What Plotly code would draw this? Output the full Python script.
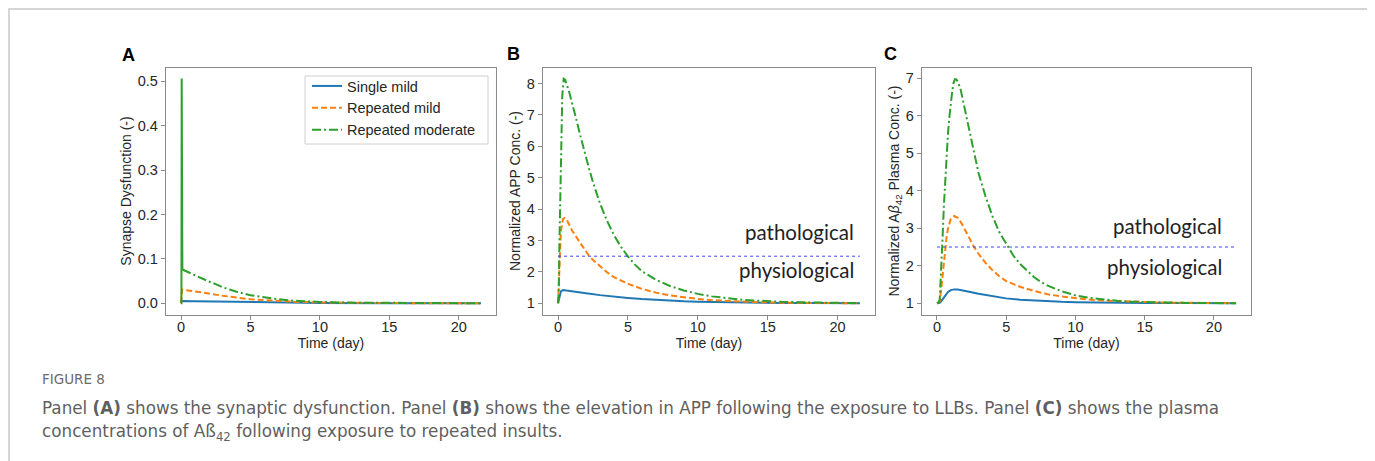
import plotly.graph_objects as go

# The page body has an 8px margin, so the figure is 8px smaller than the window
OFF = 8
W, H = 1375 - OFF, 461 - OFF

# ---------------- data ----------------
# Panel A: synapse dysfunction
tA_single = [0, 0.05, 1, 2, 4, 6, 8, 10, 15, 21.6]
yA_single = [0, 0.005, 0.0045, 0.004, 0.003, 0.002, 0.0013, 0.0008, 0.0002, 0.0]

tA_rmild = [0, 0.08, 0.5, 1, 2, 3, 4, 5, 6, 7, 8, 10, 12, 15, 21.6]
yA_rmild = [0, 0.031, 0.029, 0.027, 0.022, 0.017, 0.013, 0.009, 0.007, 0.005, 0.0035, 0.002, 0.001, 0.0004, 0.0]

tA_rmod = [0, 0.03, 0.05, 0.1, 0.5, 1, 1.5, 2, 2.5, 3, 3.5, 4, 5, 6, 7, 8, 9, 10, 12, 15, 18, 21.6]
yA_rmod = [0, 0.0, 0.506, 0.076, 0.07, 0.063, 0.056, 0.049, 0.043, 0.036, 0.031, 0.026, 0.018, 0.013,
           0.009, 0.006, 0.004, 0.003, 0.0015, 0.0005, 0.0002, 0.0]
spike_n = 4  # first points of the moderate series form the initial spike

# Panel B: normalized APP concentration
tB_single = [0, 0.1, 0.2, 0.35, 1, 2, 3, 4, 5, 6, 7, 8, 9, 10, 12, 14, 16, 18, 21.6]
yB_single = [1.0, 1.2, 1.38, 1.42, 1.39, 1.32, 1.26, 1.21, 1.17, 1.135, 1.105, 1.08, 1.063, 1.05,
             1.03, 1.018, 1.01, 1.006, 1.003]

tB_rmild = [0, 0.1, 0.2, 0.35, 0.46, 0.6, 1, 1.5, 2, 2.2, 2.5, 3, 3.5, 4, 4.5, 5, 6, 7, 8, 9, 10, 11,
            12, 14, 16, 18, 21.6]
yB_rmild = [1.0, 2.0, 3.3, 3.68, 3.72, 3.68, 3.32, 2.98, 2.64, 2.52, 2.38, 2.17, 1.99, 1.83, 1.72,
            1.62, 1.46, 1.34, 1.25, 1.19, 1.14, 1.10, 1.075, 1.04, 1.02, 1.01, 1.0]

tB_rmod = [0, 0.05, 0.1, 0.2, 0.3, 0.4, 0.5, 0.78, 1.0, 1.25, 1.5, 1.75, 2.0, 2.21, 2.5, 3, 3.5, 4,
           4.5, 5, 5.5, 6, 7, 8, 9, 10, 11, 12, 13, 14, 15, 16, 18, 20, 21.6]
yB_rmod = [1.0, 1.5, 3.0, 5.8, 7.6, 8.15, 8.12, 7.75, 7.4, 6.95, 6.5, 6.05, 5.62, 5.3, 4.85, 4.18,
           3.63, 3.17, 2.8, 2.49, 2.23, 2.02, 1.75, 1.55, 1.41, 1.30, 1.22, 1.165, 1.12, 1.09, 1.065,
           1.048, 1.026, 1.014, 1.008]

# Panel C: normalized Abeta42 plasma concentration
tC_single = [0, 0.2, 0.3, 0.4, 0.5, 0.6, 0.8, 1.0, 1.25, 1.5, 2, 2.5, 3, 3.5, 4, 5, 6, 7, 8, 9, 10,
             12, 15, 18, 21.6]
yC_single = [1.0, 1.01, 1.05, 1.1, 1.16, 1.21, 1.3, 1.35, 1.37, 1.365, 1.335, 1.295, 1.255, 1.22,
             1.185, 1.13, 1.095, 1.07, 1.052, 1.04, 1.03, 1.018, 1.008, 1.004, 1.002]

tC_rmild = [0, 0.2, 0.3, 0.4, 0.5, 0.6, 0.7, 0.8, 0.9, 1.0, 1.25, 1.5, 1.75, 2.0, 2.25, 2.5, 2.68,
            3, 3.5, 4, 4.5, 5, 6, 7, 8, 9, 10, 11, 12, 14, 16, 18, 21.6]
yC_rmild = [1.0, 1.05, 1.35, 1.75, 2.15, 2.5, 2.78, 3.0, 3.15, 3.25, 3.33, 3.28, 3.15, 2.98, 2.78,
            2.6, 2.5, 2.32, 2.08, 1.885, 1.72, 1.59, 1.44, 1.33, 1.24, 1.18, 1.13, 1.10, 1.072, 1.04,
            1.022, 1.012, 1.004]

tC_rmod = [0, 0.1, 0.2, 0.3, 0.4, 0.5, 0.6, 0.7, 0.8, 0.9, 1.0, 1.1, 1.2, 1.3, 1.4, 1.5, 1.7, 1.97,
           2.2, 2.5, 3, 3.5, 4, 4.5, 5, 5.5, 6, 6.5, 7, 7.5, 8, 9, 10, 11, 12, 13, 14, 15, 16, 18, 20, 21.6]
yC_rmod = [1.0, 1.01, 1.1, 1.8, 2.7, 3.6, 4.35, 5.0, 5.55, 5.98, 6.35, 6.65, 6.88, 6.98, 6.97, 6.92,
           6.72, 6.25, 5.8, 5.28, 4.48, 3.86, 3.33, 2.9, 2.57, 2.28, 2.05, 1.87, 1.70, 1.57, 1.47,
           1.32, 1.21, 1.145, 1.095, 1.065, 1.043, 1.03, 1.02, 1.009, 1.004, 1.002]

threshold = 2.5
t_span = [0, 21.6]

series_names = ["Single mild", "Repeated mild", "Repeated moderate"]
colors = ["#1f77b4", "#ff7f0e", "#2ca02c"]
x_ticks = [0, 5, 10, 15, 20]

# ---------------- layout helpers (page pixel -> paper fraction) ----------------
def px(x):
    return (x - OFF) / W

def py(y):
    return 1 - (y - OFF) / H

FONT = "Liberation Sans, Arial, sans-serif"
TXT = "#262626"
AX = "#8a8a8a"

dash_mild = "6px,3px"
dash_mod = "9px,3px,2px,3px"

fig = go.Figure()

panels = [
    ("x", "y", (tA_single, yA_single), (tA_rmild, yA_rmild), (tA_rmod, yA_rmod)),
    ("x2", "y2", (tB_single, yB_single), (tB_rmild, yB_rmild), (tB_rmod, yB_rmod)),
    ("x3", "y3", (tC_single, yC_single), (tC_rmild, yC_rmild), (tC_rmod, yC_rmod)),
]

for i, (xa, ya, s1, s2, s3) in enumerate(panels):
    show = i == 0
    fig.add_trace(go.Scatter(x=s1[0], y=s1[1], mode="lines", name=series_names[0],
                             line=dict(color=colors[0], width=2), xaxis=xa, yaxis=ya,
                             showlegend=show, legendrank=1))
    fig.add_trace(go.Scatter(x=s2[0], y=s2[1], mode="lines", name=series_names[1],
                             line=dict(color=colors[1], width=2, dash=dash_mild), xaxis=xa, yaxis=ya,
                             showlegend=show, legendrank=2))
    if i == 0:
        # spike drawn solid, remainder dash-dot
        fig.add_trace(go.Scatter(x=s3[0][:spike_n], y=s3[1][:spike_n], mode="lines",
                                 line=dict(color=colors[2], width=2), xaxis=xa, yaxis=ya,
                                 showlegend=False))
        fig.add_trace(go.Scatter(x=s3[0][spike_n - 1:], y=s3[1][spike_n - 1:], mode="lines",
                                 name=series_names[2],
                                 line=dict(color=colors[2], width=2, dash=dash_mod), xaxis=xa, yaxis=ya,
                                 showlegend=True, legendrank=3))
    else:
        fig.add_trace(go.Scatter(x=s3[0], y=s3[1], mode="lines", name=series_names[2],
                                 line=dict(color=colors[2], width=2, dash=dash_mod), xaxis=xa, yaxis=ya,
                                 showlegend=False))
    if i > 0:
        fig.add_trace(go.Scatter(x=t_span, y=[threshold, threshold], mode="lines",
                                 line=dict(color="#4040ff", width=1, dash="dot"),
                                 xaxis=xa, yaxis=ya, showlegend=False))

ydom = [py(314.5), py(67.5)]
xdoms = [[px(166), px(496)], [px(543), px(875)], [px(922), px(1251)]]
yranges = [[-0.0253, 0.531], [0.643, 8.51], [0.70, 7.29]]
ytitles = ["Synapse Dysfunction (-)", "Normalized APP Conc. (-)",
           "Normalized A<i>β</i><sub>42</sub> Plasma Conc. (-)"]

common = dict(showline=True, mirror=True, linecolor=AX, linewidth=1.3, ticks="outside",
              ticklen=4, tickwidth=1, tickcolor=AX, showgrid=False, zeroline=False,
              tickfont=dict(family=FONT, size=14.5, color=TXT))

layout = dict(width=W, height=H, autosize=False, margin=dict(l=0, r=0, t=0, b=0),
              paper_bgcolor="white", plot_bgcolor="white", template="none",
              font=dict(family=FONT, color=TXT))

for i in range(3):
    sx = "" if i == 0 else str(i + 1)
    layout["xaxis" + sx] = dict(common, domain=xdoms[i], range=[-1.08, 22.68], tickvals=x_ticks,
                                anchor="y" + sx, ticklabelstandoff=-5,
                                title=dict(text="Time (day)", font=dict(family=FONT, size=14, color=TXT),
                                           standoff=0))
    yax = dict(common, domain=ydom, range=yranges[i], anchor="x" + sx,
               title=dict(text=ytitles[i], font=dict(family=FONT, size=14, color=TXT), standoff=2))
    if i == 0:
        yax["dtick"] = 0.1
        yax["tickformat"] = ".1f"
    else:
        yax["dtick"] = 1
    layout["yaxis" + sx] = yax

# legend entries (box drawn as a shape below)
layout["legend"] = dict(x=px(307), y=py(70), xanchor="left", yanchor="top",
                        borderwidth=0, bgcolor="rgba(0,0,0,0)",
                        font=dict(family=FONT, size=14.5, color=TXT), itemwidth=30,
                        tracegroupgap=0)

fig.update_layout(**layout)

fig.add_shape(type="rect", xref="paper", yref="paper", x0=px(305), x1=px(488), y0=py(144), y1=py(76),
              line=dict(color="#d0d0d0", width=1), fillcolor="white", layer="above")

# threshold labels
lab_font = dict(family="Lato, Open Sans, sans-serif", size=20.5, color="#222222")
for sx, xr, yp, yph in [("2", 21.3, 3.27, 2.07), ("3", 20.73, 3.06, 1.96)]:
    fig.add_annotation(x=xr, y=yp, xref="x" + sx, yref="y" + sx, text="pathological",
                       showarrow=False, xanchor="right", yanchor="middle", font=lab_font)
    fig.add_annotation(x=xr, y=yph, xref="x" + sx, yref="y" + sx, text="physiological",
                       showarrow=False, xanchor="right", yanchor="middle", font=lab_font)

# panel letters
for letter, xc, yc in [("A", 129, 55), ("B", 513, 54), ("C", 890, 54)]:
    fig.add_annotation(x=px(xc), y=py(yc), xref="paper", yref="paper", text="<b>%s</b>" % letter,
                       showarrow=False, xanchor="center", yanchor="middle",
                       font=dict(family=FONT, size=18, color="black"))

# caption
cap_font = "DejaVu Sans, sans-serif"
fig.add_annotation(x=px(40), y=py(379), xref="paper", yref="paper", text="FIGURE 8",
                   showarrow=False, xanchor="left", yanchor="middle",
                   font=dict(family=cap_font, size=13.5, color="#6b6b6b"))
fig.add_annotation(x=px(40), y=py(408), xref="paper", yref="paper",
                   text="Panel <b>(A)</b> shows the synaptic dysfunction. Panel <b>(B)</b> shows the elevation in APP "
                        "following the exposure to LLBs. Panel <b>(C)</b> shows the plasma",
                   showarrow=False, xanchor="left", yanchor="middle",
                   font=dict(family=cap_font, size=16.8, color="#5f5f5f"))
fig.add_annotation(x=px(40), y=py(432), xref="paper", yref="paper",
                   text="concentrations of Aß<sub>42</sub> following exposure to repeated insults.",
                   showarrow=False, xanchor="left", yanchor="middle",
                   font=dict(family=cap_font, size=16.8, color="#5f5f5f"))

# outer frame
fig.add_shape(type="rect", xref="paper", yref="paper", x0=px(9), x1=px(1369), y0=-0.1, y1=py(9),
              line=dict(color="#c8c8c8", width=1.5), fillcolor="rgba(0,0,0,0)", layer="below")

fig.write_html("out.html")
